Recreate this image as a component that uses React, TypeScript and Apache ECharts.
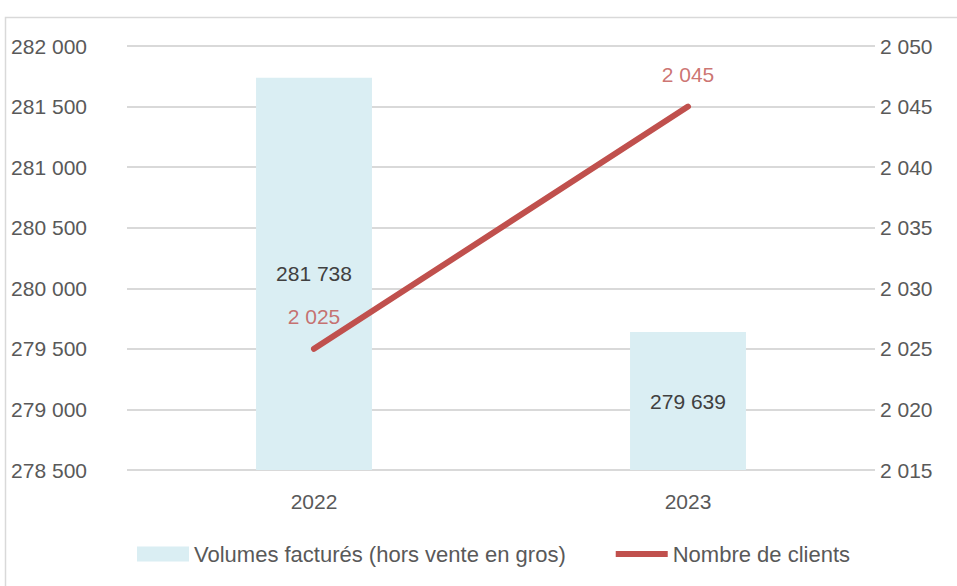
import React, { useEffect, useRef } from "react";
import * as echarts from "echarts";

const categories = ["2022", "2023"];
const volumes = [281738, 279639];
const clients = [2025, 2045];
const volumeName = "Volumes facturés (hors vente en gros)";
const clientName = "Nombre de clients";

const fmt = (v: number) => String(v).replace(/\B(?=(\d{3})+(?!\d))/g, " ");
const FONT = "'Liberation Sans', Arial, sans-serif";
const FS = 21;

export default function App() {
  const ref = useRef<HTMLDivElement>(null);
  useEffect(() => {
    document.body.style.margin = "0";
    if (!ref.current) return;
    const chart = echarts.init(ref.current, undefined, { renderer: "svg" });
    chart.setOption({
      animation: false,
      backgroundColor: "#ffffff",
      textStyle: { fontFamily: FONT },
      graphic: [
        {
          type: "rect",
          shape: { x: 5.5, y: 17.5, width: 1000, height: 700 },
          style: { fill: "none", stroke: "#d9d9d9", lineWidth: 1.5 },
          silent: true,
        },
      ],
      grid: { left: 127, right: 82, top: 46, bottom: 116 },
      legend: {
        top: 538,
        left: 132,
        itemGap: 50,
        itemWidth: 52,
        itemHeight: 15,
        textStyle: { fontSize: 22, color: "#595959", fontFamily: FONT },
        data: [
          { name: volumeName, icon: "rect" },
          { name: clientName, icon: "path://M0,0M0,15M0,4.5L52,4.5L52,10.5L0,10.5Z" },
        ],
      },
      xAxis: {
        type: "category",
        data: categories,
        axisLine: { show: false },
        axisTick: { show: false },
        axisLabel: { fontSize: FS, color: "#595959", margin: 21, fontFamily: FONT },
      },
      yAxis: [
        {
          type: "value",
          min: 278500,
          max: 282000,
          interval: 500,
          axisLine: { show: false },
          axisTick: { show: false },
          splitLine: { lineStyle: { color: "#d9d9d9", width: 2 } },
          axisLabel: { fontSize: FS, color: "#595959", margin: 40, formatter: fmt, fontFamily: FONT },
        },
        {
          type: "value",
          min: 2015,
          max: 2050,
          interval: 5,
          axisLine: { show: false },
          axisTick: { show: false },
          splitLine: { show: false },
          axisLabel: { fontSize: FS, color: "#595959", margin: 5, formatter: fmt, fontFamily: FONT },
        },
      ],
      series: [
        {
          name: volumeName,
          type: "bar",
          data: volumes,
          barWidth: "31%",
          itemStyle: { color: "#daeef3" },
          label: {
            show: true,
            position: "inside",
            color: "#404040",
            fontSize: FS,
            fontFamily: FONT,
            formatter: (p: any) => fmt(p.value),
          },
        },
        {
          name: clientName,
          type: "line",
          yAxisIndex: 1,
          data: clients,
          symbol: "none",
          itemStyle: { color: "#c0504d" },
          lineStyle: { color: "#c0504d", width: 6, cap: "round" },
        },
        {
          name: "clientLabels",
          type: "scatter",
          yAxisIndex: 1,
          data: clients,
          symbolSize: 0,
          itemStyle: { color: "#c0504d" },
          silent: true,
          label: {
            show: true,
            position: "top",
            distance: 22,
            color: "#c0504d",
            fontSize: FS,
            fontFamily: FONT,
            formatter: (p: any) => fmt(p.value),
          },
        },
      ],
    });
    return () => chart.dispose();
  }, []);
  return <div ref={ref} style={{ width: 957, height: 586 }} />;
}
